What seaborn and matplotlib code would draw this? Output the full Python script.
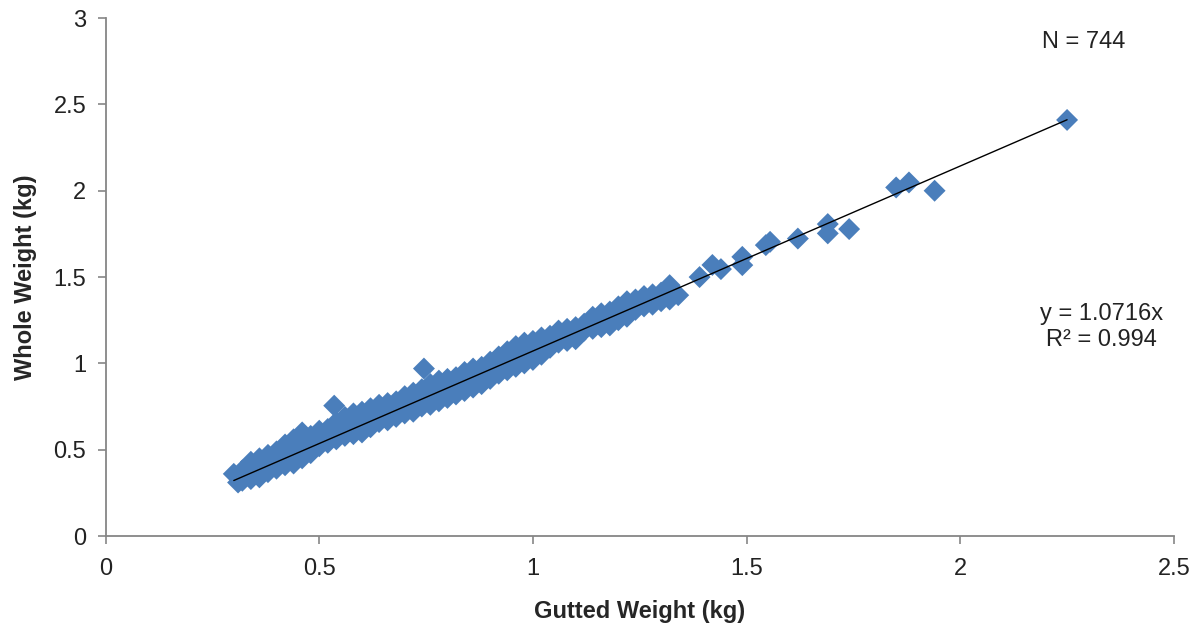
import numpy as np
import pandas as pd
import matplotlib
matplotlib.use("Agg")
import matplotlib.pyplot as plt
import seaborn as sns

# Values (gutted vs whole weight, kg)
# upper edge of the dense band
upper_x = [0.30, 0.32, 0.34, 0.36, 0.38, 0.40, 0.42, 0.44, 0.46, 0.48,
           0.50, 0.52, 0.54, 0.56, 0.58, 0.60, 0.62, 0.64, 0.66, 0.68,
           0.70, 0.72, 0.74, 0.76, 0.78, 0.80, 0.82, 0.84, 0.86, 0.88,
           0.90, 0.92, 0.94, 0.96, 0.98, 1.00, 1.02, 1.04, 1.06, 1.08,
           1.10, 1.12, 1.14, 1.16, 1.18, 1.20, 1.22, 1.24, 1.26, 1.28,
           1.30, 1.32]
upper_y = [0.36, 0.38, 0.43, 0.45, 0.47, 0.49, 0.53, 0.56, 0.60, 0.58,
           0.61, 0.62, 0.66, 0.69, 0.71, 0.72, 0.74, 0.76, 0.77, 0.78,
           0.81, 0.83, 0.85, 0.88, 0.90, 0.91, 0.92, 0.95, 0.97, 0.98,
           1.01, 1.04, 1.07, 1.10, 1.12, 1.13, 1.15, 1.16, 1.19, 1.20,
           1.21, 1.23, 1.27, 1.29, 1.30, 1.33, 1.36, 1.37, 1.39, 1.40,
           1.41, 1.43]

# middle of the band
mid_x = [0.32, 0.34, 0.36, 0.38, 0.40, 0.42, 0.44, 0.46, 0.48, 0.50,
         0.52, 0.54, 0.56, 0.58, 0.60, 0.62, 0.64, 0.66, 0.68, 0.70,
         0.72, 0.74, 0.76, 0.78, 0.80, 0.82, 0.84, 0.86, 0.88, 0.90,
         0.92, 0.94, 0.96, 0.98, 1.00, 1.02, 1.04, 1.06, 1.08, 1.10,
         1.12, 1.14, 1.16, 1.18, 1.20, 1.22, 1.24, 1.26, 1.28, 1.30]
mid_y = [0.35, 0.37, 0.39, 0.41, 0.44, 0.46, 0.48, 0.51, 0.53, 0.55,
         0.58, 0.59, 0.62, 0.65, 0.66, 0.68, 0.70, 0.72, 0.73, 0.75,
         0.78, 0.80, 0.82, 0.84, 0.86, 0.87, 0.90, 0.92, 0.94, 0.96,
         0.99, 1.01, 1.04, 1.06, 1.08, 1.10, 1.12, 1.15, 1.16, 1.18,
         1.21, 1.23, 1.25, 1.26, 1.29, 1.31, 1.34, 1.35, 1.37, 1.39]

# lower edge of the band
lower_x = [0.31, 0.32, 0.34, 0.36, 0.38, 0.40, 0.42, 0.44, 0.46, 0.48,
           0.50, 0.52, 0.54, 0.56, 0.58, 0.60, 0.62, 0.64, 0.66, 0.68,
           0.70, 0.72, 0.74, 0.76, 0.78, 0.80, 0.82, 0.84, 0.86, 0.88,
           0.90, 0.92, 0.94, 0.96, 0.98, 1.00, 1.02, 1.04, 1.06, 1.08,
           1.10, 1.12, 1.14, 1.16, 1.18, 1.20, 1.22, 1.24, 1.26, 1.28,
           1.30, 1.32]
lower_y = [0.31, 0.32, 0.33, 0.34, 0.37, 0.39, 0.41, 0.42, 0.45, 0.48,
           0.52, 0.54, 0.56, 0.58, 0.59, 0.60, 0.63, 0.66, 0.67, 0.69,
           0.71, 0.72, 0.75, 0.76, 0.78, 0.80, 0.82, 0.84, 0.86, 0.88,
           0.91, 0.94, 0.96, 0.98, 1.00, 1.02, 1.05, 1.09, 1.12, 1.13,
           1.14, 1.19, 1.20, 1.21, 1.22, 1.25, 1.27, 1.31, 1.33, 1.34,
           1.36, 1.37]

# isolated points
sparse_x = [0.535, 0.745, 1.31, 1.32, 1.34, 1.39, 1.42, 1.44, 1.49, 1.49,
            1.545, 1.555, 1.62, 1.69, 1.69, 1.74, 1.85, 1.88, 1.94, 2.25]
sparse_y = [0.755, 0.97, 1.415, 1.453, 1.395, 1.50, 1.57, 1.546, 1.617, 1.569,
            1.685, 1.704, 1.723, 1.807, 1.753, 1.778, 2.019, 2.048, 2.00, 2.41]

slope = 1.0716
r2 = 0.994
n_fish = 744

df = pd.DataFrame({
    "gutted": upper_x + mid_x + lower_x + sparse_x,
    "whole": upper_y + mid_y + lower_y + sparse_y,
})

sns.set_style("ticks")
plt.rcParams["font.family"] = ["Liberation Sans", "DejaVu Sans"]

fig = plt.figure(figsize=(11.93, 6.24), dpi=100)
ax = fig.add_axes([0.0885, 0.141, 0.8955, 0.83])

sns.scatterplot(data=df, x="gutted", y="whole", marker="D", s=125,
                color="#4A7EBB", edgecolor="none", linewidth=0, ax=ax, zorder=2)

# zero-intercept trendline over the data range
fit_x = np.array([df["gutted"].min(), df["gutted"].max()])
ax.plot(fit_x, slope * fit_x, color="black", lw=1.0, zorder=3)

ax.set_xlim(0, 2.5)
ax.set_ylim(0, 3)
ax.set_xticks([0, 0.5, 1, 1.5, 2, 2.5])
ax.set_xticklabels(["0", "0.5", "1", "1.5", "2", "2.5"])
ax.set_yticks([0, 0.5, 1, 1.5, 2, 2.5, 3])
ax.set_yticklabels(["0", "0.5", "1", "1.5", "2", "2.5", "3"])

sns.despine(ax=ax)
for side in ["left", "bottom"]:
    ax.spines[side].set_color("#868686")
    ax.spines[side].set_linewidth(1.3)
ax.tick_params(axis="both", direction="out", length=6, width=1.2,
               color="#868686", labelsize=17, labelcolor="#222222", pad=8)
ax.tick_params(axis="x", pad=10)

ax.set_xlabel("Gutted Weight (kg)", fontsize=17, fontweight="bold", labelpad=14)
ax.set_ylabel("Whole Weight (kg)", fontsize=17, fontweight="bold", labelpad=12)

ax.text(2.29, 2.86, f"N = {n_fish}", fontsize=17, ha="center", va="center",
        color="#222222")
ax.text(2.33, 1.21, f"y = {slope}x\nR² = {r2}", fontsize=17, ha="center",
        va="center", color="#222222", linespacing=1.25)

fig.savefig("out.png", dpi=100)
